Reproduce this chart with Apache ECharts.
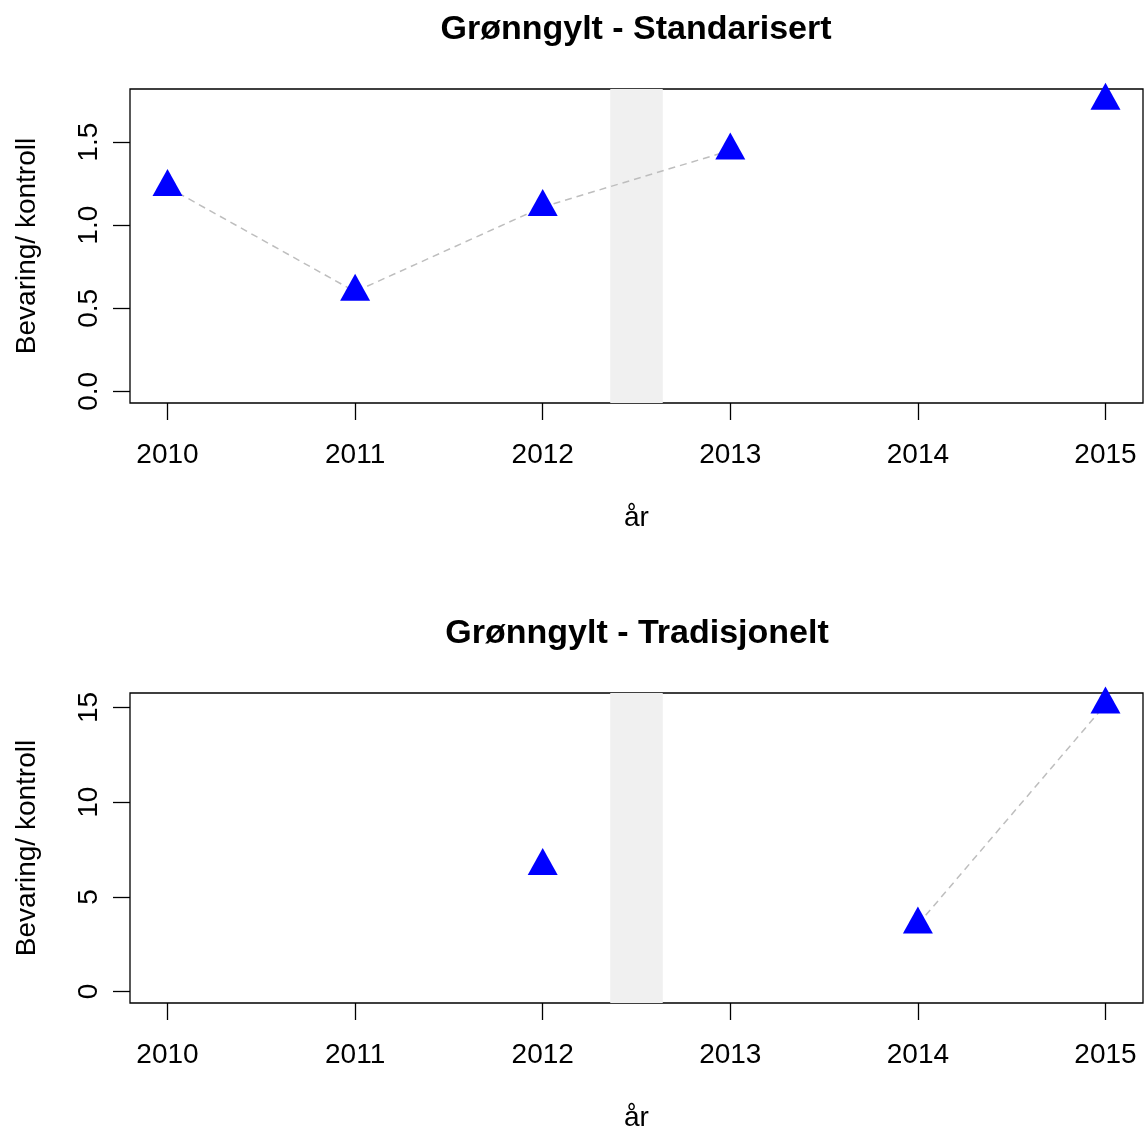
<!DOCTYPE html>
<html>
<head>
<meta charset="utf-8">
<script src="https://cdn.jsdelivr.net/npm/echarts@6/dist/echarts.min.js"></script>
<style>
  html, body { margin: 0; padding: 0; background: #fff; }
  #chart { width: 1144px; height: 1133px; }
</style>
</head>
<body>
<div id="chart"></div>
<script>
// data
const years = [2010, 2011, 2012, 2013, 2014, 2015];
const standardisert = [1.23, 0.60, 1.11, 1.45, null, 1.75];
const tradisjonelt = [null, null, 6.63, null, 3.54, 15.16];
const topTicks = [0, 0.5, 1.0, 1.5];
const bottomTicks = [0, 5, 10, 15];
const band = [2012.36, 2012.64];
const titles = ['Grønngylt - Standarisert', 'Grønngylt - Tradisjonelt'];

const FONT = '"Liberation Sans", Arial, sans-serif';
const chart = echarts.init(document.getElementById('chart'));

// R style limits: 4% padding round the data range
function pad(lo, hi) {
  const r = hi - lo;
  return [lo - r * 0.04, hi + r * 0.04];
}
const xLim = pad(years[0], years[years.length - 1]);
const yLimTop = pad(0, Math.max(...standardisert.filter(v => v != null)));
const yLimBottom = pad(0, Math.max(...tradisjonelt.filter(v => v != null)));

function pairs(vals) {
  return years.map((y, i) => [y, vals[i] == null ? '-' : vals[i]]);
}

const grids = [
  { left: 130, top: 89, width: 1013, height: 314 },
  { left: 130, top: 693, width: 1013, height: 315 }
];

function xAxisFor(idx) {
  return {
    type: 'value',
    gridIndex: idx,
    min: xLim[0],
    max: xLim[1],
    name: 'år',
    nameLocation: 'middle',
    nameGap: 101,
    nameTextStyle: { fontFamily: FONT, fontSize: 28, color: '#000' },
    axisLine: { show: false, onZero: false },
    splitLine: { show: false },
    axisTick: {
      show: true,
      customValues: years,
      length: 17,
      lineStyle: { color: '#000', width: 1.3 }
    },
    axisLabel: {
      customValues: years,
      fontFamily: FONT,
      fontSize: 28,
      color: '#000',
      margin: 38,
      formatter: v => String(v)
    }
  };
}

function yAxisFor(idx, lim, ticks, fmt) {
  return {
    type: 'value',
    gridIndex: idx,
    min: lim[0],
    max: lim[1],
    name: 'Bevaring/ kontroll',
    nameLocation: 'middle',
    nameGap: 89,
    nameRotate: 90,
    nameTextStyle: { fontFamily: FONT, fontSize: 28, color: '#000' },
    axisLine: { show: false, onZero: false },
    splitLine: { show: false },
    axisTick: {
      show: true,
      customValues: ticks,
      length: 17,
      lineStyle: { color: '#000', width: 1.3 }
    },
    axisLabel: {
      customValues: ticks,
      rotate: 90,
      fontFamily: FONT,
      fontSize: 28,
      color: '#000',
      margin: 27,
      formatter: fmt
    }
  };
}

function bandSeries(idx) {
  return {
    type: 'line',
    xAxisIndex: idx,
    yAxisIndex: idx,
    data: [],
    z: 1,
    silent: true,
    markArea: {
      silent: true,
      itemStyle: { color: '#f0f0f0' },
      data: [[{ xAxis: band[0] }, { xAxis: band[1] }]]
    }
  };
}

function pointSeries(idx, vals) {
  return {
    type: 'line',
    xAxisIndex: idx,
    yAxisIndex: idx,
    data: pairs(vals),
    z: 3,
    connectNulls: false,
    symbol: 'triangle',
    symbolSize: [30, 27],
    symbolOffset: [0, -4.5],
    showAllSymbol: true,
    itemStyle: { color: '#0000ff' },
    lineStyle: { color: '#bebebe', width: 1.5, type: [7, 5] },
    emphasis: { disabled: true },
    animation: false
  };
}

chart.setOption({
  backgroundColor: '#fff',
  animation: false,
  title: [
    {
      text: titles[0], left: 631, top: 8, textAlign: 'center',
      textStyle: { fontFamily: FONT, fontSize: 34, fontWeight: 'bold', color: '#000' }
    },
    {
      text: titles[1], left: 632, top: 612, textAlign: 'center',
      textStyle: { fontFamily: FONT, fontSize: 34, fontWeight: 'bold', color: '#000' }
    }
  ],
  grid: grids.map(g => Object.assign({
    show: true, borderColor: '#000', borderWidth: 1.3, backgroundColor: 'transparent'
  }, g)),
  xAxis: [xAxisFor(0), xAxisFor(1)],
  yAxis: [
    yAxisFor(0, yLimTop, topTicks, v => v.toFixed(1)),
    yAxisFor(1, yLimBottom, bottomTicks, v => String(v))
  ],
  series: [
    bandSeries(0),
    pointSeries(0, standardisert),
    bandSeries(1),
    pointSeries(1, tradisjonelt)
  ]
});
</script>
</body>
</html>
